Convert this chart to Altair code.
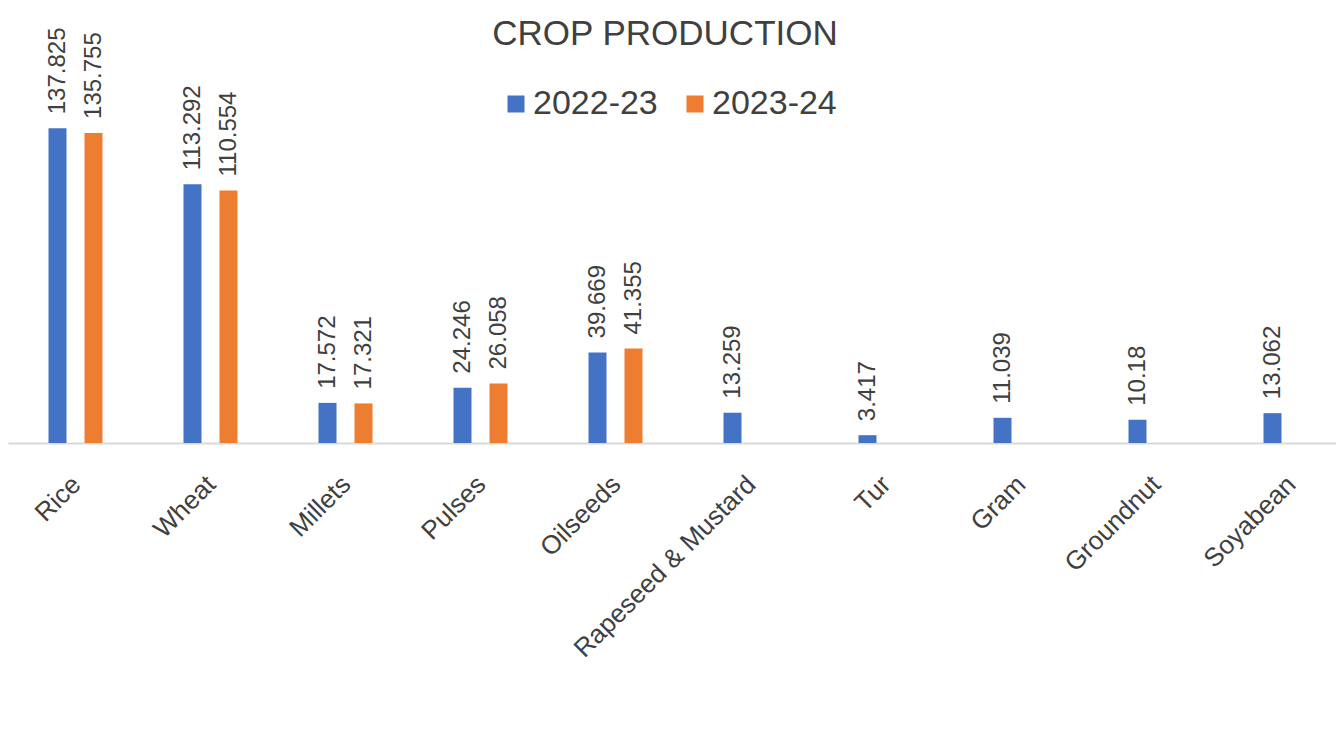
import altair as alt
import pandas as pd

crops = ["Rice", "Wheat", "Millets", "Pulses", "Oilseeds",
         "Rapeseed & Mustard", "Tur", "Gram", "Groundnut", "Soyabean"]
prod_2022_23 = [137.825, 113.292, 17.572, 24.246, 39.669,
                13.259, 3.417, 11.039, 10.18, 13.062]
prod_2023_24 = [135.755, 110.554, 17.321, 26.058, 41.355,
                None, None, None, None, None]
series = ["2022-23", "2023-24"]
colors = ["#4472C4", "#ED7D31"]

rows = []
for c, a, b in zip(crops, prod_2022_23, prod_2023_24):
    rows.append({"crop": c, "season": series[0], "value": a})
    if b is not None:
        rows.append({"crop": c, "season": series[1], "value": b})
df = pd.DataFrame(rows)
df["label"] = df["value"].map(lambda v: f"{v:g}")

FONT = "Liberation Sans"
TXT = "#404040"

x = alt.X(
    "crop:N", sort=crops,
    scale=alt.Scale(range=[0, 1350], paddingInner=0.6, paddingOuter=0.3),
    axis=alt.Axis(title=None, labelAngle=-45, labelAlign="right",
                  labelBaseline="middle", labelFontSize=26, labelFont=FONT,
                  labelColor=TXT, labelPadding=37, labelOffset=1,
                  ticks=False, domainColor="#d9d9d9", domainWidth=2,
                  labelLimit=600, labelOverlap=False, grid=False),
)
xo = alt.XOffset("season:N",
                 scale=alt.Scale(domain=series, paddingInner=0.5, paddingOuter=0))
y = alt.Y("value:Q", scale=alt.Scale(domain=[0, 167.7], nice=False), axis=None)
color = alt.Color(
    "season:N",
    scale=alt.Scale(domain=series, range=colors),
    legend=alt.Legend(title=None, orient="none", legendX=491, legendY=27,
                      direction="horizontal", symbolType="square",
                      symbolSize=289, symbolStrokeWidth=0,
                      labelFontSize=34, labelFont=FONT, labelColor=TXT,
                      labelOffset=0, columnPadding=20),
)

base = alt.Chart(df)
bars = base.mark_bar().encode(x=x, xOffset=xo, y=y, color=color)
labels = base.mark_text(angle=270, align="left", baseline="middle", dx=14,
                        fontSize=24, font=FONT, color=TXT).encode(
    x=x, xOffset=xo, y=y, text="label:N")

chart = alt.layer(bars, labels).properties(
    width=1328, height=383,
    padding={"left": 0, "right": 0, "top": 52, "bottom": 279},
    autosize=alt.AutoSizeParams(type="none"),
    title=alt.TitleParams("CROP PRODUCTION", fontSize=35, font=FONT,
                          fontWeight="normal", color=TXT, anchor="middle",
                          dx=-7, dy=29),
).configure_view(stroke=None)

chart.save("out.html", embed_options={"renderer": "svg", "actions": False})
